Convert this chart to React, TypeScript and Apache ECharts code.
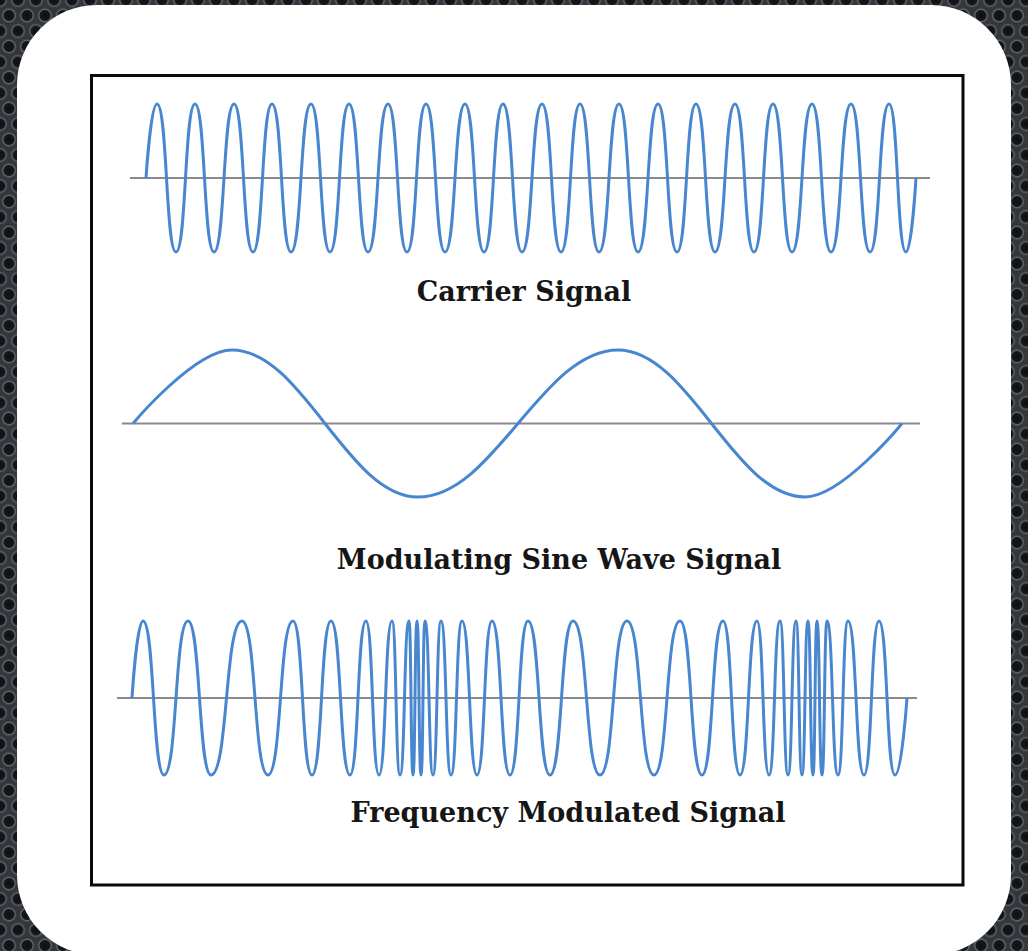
import React, { useEffect, useRef } from "react";
import * as echarts from "echarts";

// Shared time axis (arbitrary time units) for all three traces
const timeMin = 0;
const timeMax = 820;

// Carrier signal: start/end at zero, peak and trough times
const carrierStart = 30;
const carrierEnd = 800;
const carrierPeaks = [41, 79, 118, 156, 195, 233, 272, 310, 349, 387, 426, 464, 503, 542, 580, 619, 657, 696, 735, 773];
const carrierTroughs = [60, 98, 137, 175, 214, 252, 291, 329, 368, 406, 445, 483, 522, 561, 599, 638, 676, 715, 754, 790];
const carrierBaseline = [14, 814];

// Modulating sine wave
const modStart = 17;
const modEnd = 786;
const modPeaks = [116, 502];
const modTroughs = [302, 689];
const modBaseline = [6, 804];

// Frequency modulated signal
const fmStart = 16;
const fmEnd = 791;
const fmPeaks = [27, 72, 126, 177, 215, 250, 276, 293, 301, 309, 325, 346, 376, 412, 457, 511, 564, 607, 641, 664, 680, 692, 701, 711, 732, 763];
const fmTroughs = [48, 95, 152, 196, 234, 263, 284, 297, 305, 317, 335, 361, 394, 434, 484, 538, 586, 624, 653, 672, 686, 697, 706, 722, 748, 779];
const fmBaseline = [1, 801];

const labels = ["Carrier Signal", "Modulating Sine Wave Signal", "Frequency Modulated Signal"];

function buildWave(start: number, peaks: number[], troughs: number[], end: number) {
  const pts: number[][] = [[start, 0]];
  for (let i = 0; i < peaks.length; i++) {
    pts.push([peaks[i], 1]);
    if (i < troughs.length) pts.push([troughs[i], -1]);
  }
  pts.push([end, 0]);
  return pts;
}

const WAVE_COLOR = "#4887cf";
const BASE_COLOR = "#8a8a8a";

export default function App() {
  const ref = useRef<HTMLDivElement>(null);
  useEffect(() => {
    if (!ref.current) return;
    const chart = echarts.init(ref.current, undefined, { renderer: "svg" });
    const panels = [
      { top: 104, height: 148, smooth: 0.55, wave: buildWave(carrierStart, carrierPeaks, carrierTroughs, carrierEnd), base: carrierBaseline },
      { top: 350, height: 147, smooth: 0.38, wave: buildWave(modStart, modPeaks, modTroughs, modEnd), base: modBaseline },
      { top: 621, height: 154, smooth: 0.55, wave: buildWave(fmStart, fmPeaks, fmTroughs, fmEnd), base: fmBaseline },
    ];
    const grid = panels.map((p) => ({ left: 116, width: 820, top: p.top, height: p.height }));
    const xAxis = panels.map((_, i) => ({ type: "value", gridIndex: i, min: timeMin, max: timeMax, show: false }));
    const yAxis = panels.map((_, i) => ({ type: "value", gridIndex: i, min: -1, max: 1, show: false }));
    const series: any[] = [];
    panels.forEach((p, i) => {
      series.push({
        type: "line",
        xAxisIndex: i,
        yAxisIndex: i,
        data: [[p.base[0], 0], [p.base[1], 0]],
        symbol: "none",
        clip: false,
        silent: true,
        z: 4,
        lineStyle: { color: BASE_COLOR, width: 2 },
      });
      series.push({
        type: "line",
        xAxisIndex: i,
        yAxisIndex: i,
        data: p.wave,
        symbol: "none",
        smooth: p.smooth,
        smoothMonotone: "x",
        clip: false,
        silent: true,
        z: 5,
        lineStyle: { color: WAVE_COLOR, width: 3 },
      });
    });
    const font = 'bold 27px "DejaVu Serif"';
    const labelPos = [
      [524, 291],
      [559, 559],
      [568, 812],
    ];
    chart.setOption({
      animation: false,
      grid,
      xAxis,
      yAxis,
      series,
      graphic: [
        {
          type: "rect",
          z: 0,
          shape: { x: 17, y: 5, width: 994, height: 950, r: 80 },
          style: { fill: "#ffffff" },
        },
        {
          type: "rect",
          z: 1,
          shape: { x: 91.5, y: 75.5, width: 871.5, height: 809.5 },
          style: { fill: "none", stroke: "#0a0a0a", lineWidth: 3 },
        },
        ...labels.map((t, i) => ({
          type: "text",
          z: 1,
          x: labelPos[i][0],
          y: labelPos[i][1],
          style: {
            text: t,
            font,
            fill: "#161616",
            align: "center",
            verticalAlign: "middle",
            textAlign: "center",
            textVerticalAlign: "middle",
          },
        })),
      ],
    });
    return () => chart.dispose();
  }, []);
  const hole = "radial-gradient(circle, #0e0f11 0px, #17181b 5px, #63676e 6px, #3c3f44 7.3px, rgba(0,0,0,0) 8px)";
  return (
    <div
      ref={ref}
      style={{
        position: "fixed",
        left: 0,
        top: 0,
        width: 1028,
        height: 951,
        backgroundColor: "#33363b",
        backgroundImage: `${hole}, ${hole}`,
        backgroundSize: "18px 31px",
        backgroundPosition: "0px 0px, 9px 15.5px",
      }}
    />
  );
}
